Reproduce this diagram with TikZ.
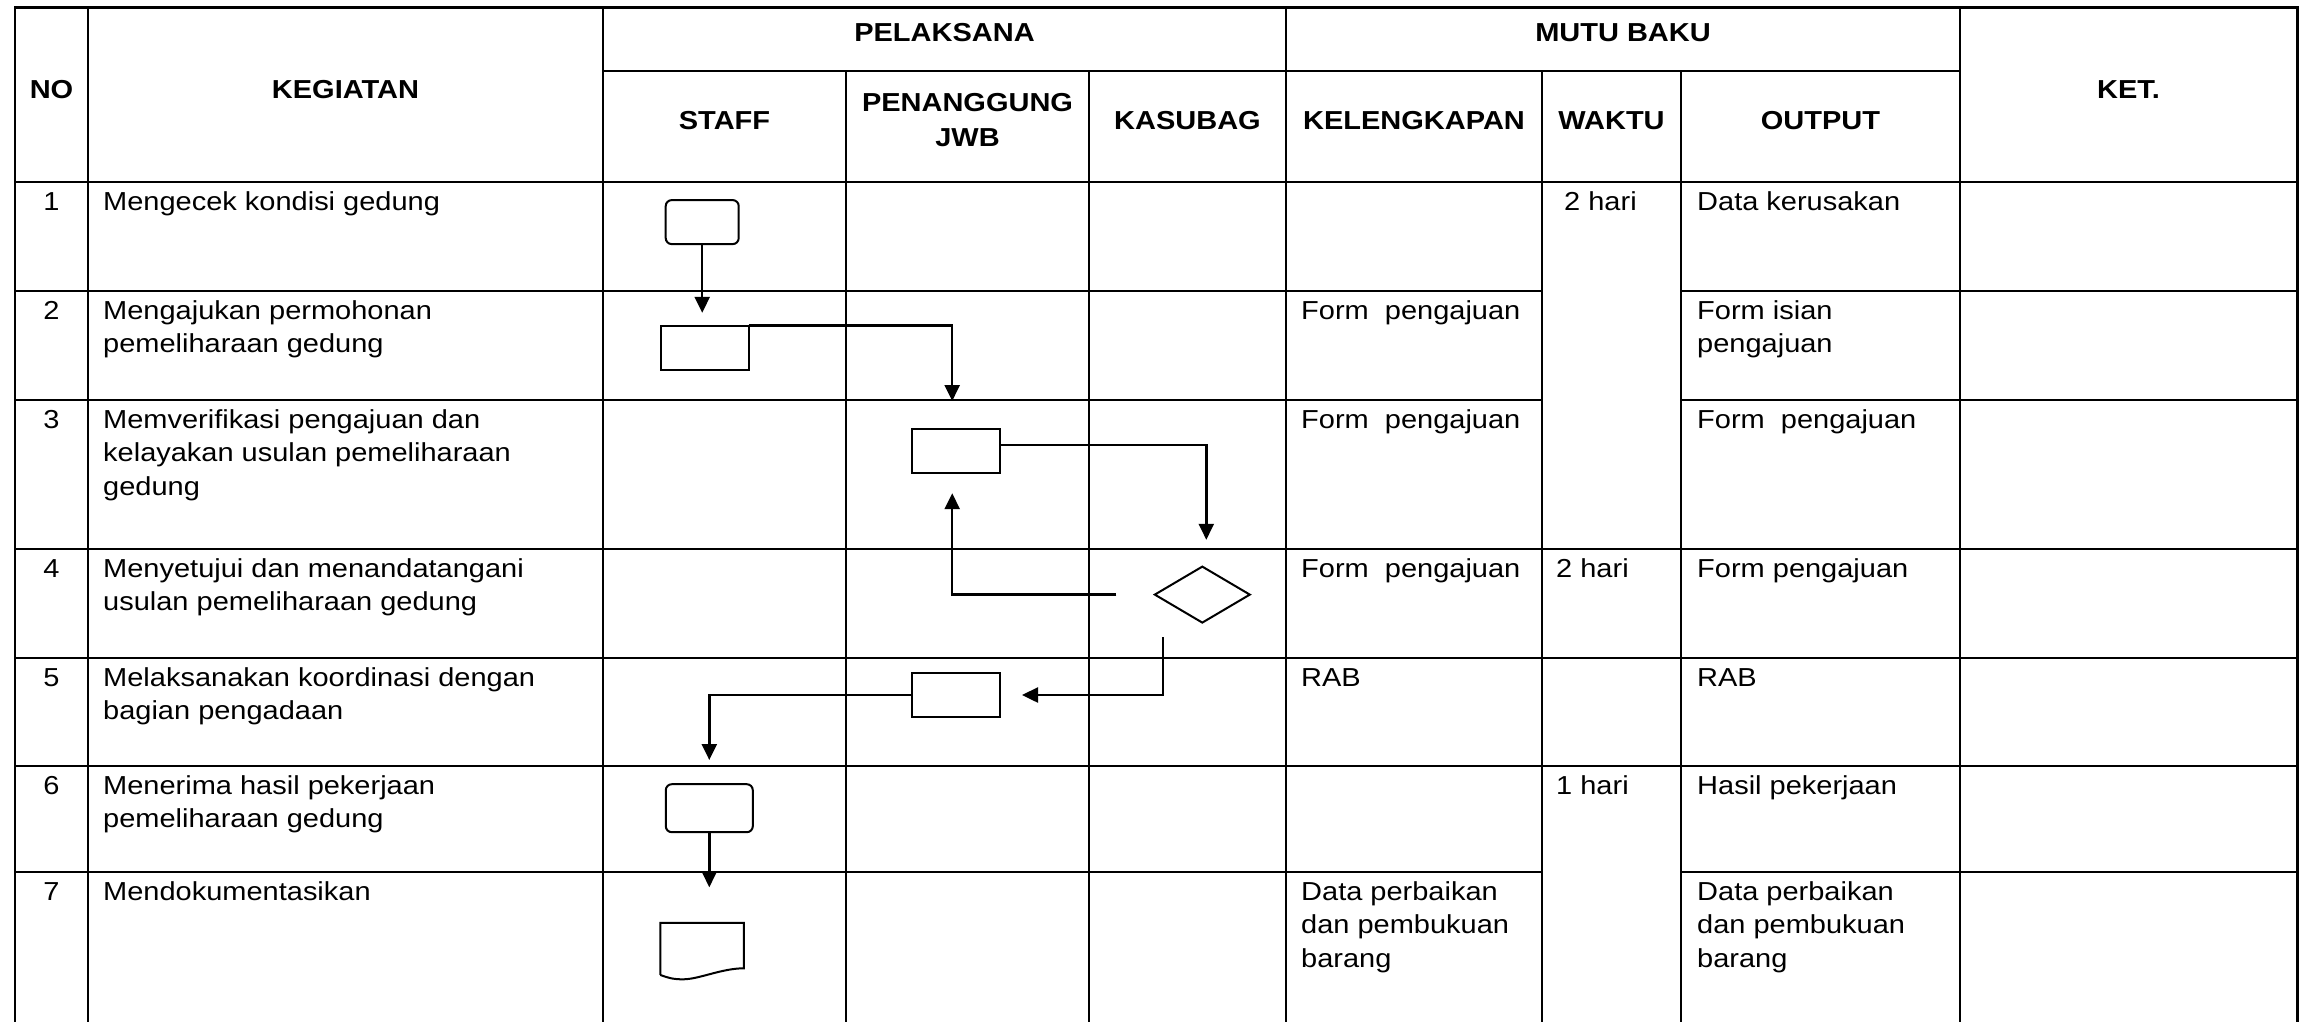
\documentclass[tikz,border=0pt]{standalone}
\usepackage{fontspec}
\setmainfont{Liberation Sans}[FakeStretch=1.115]
\usetikzlibrary{arrows.meta,shapes.geometric}
\newcommand\cel[1]{\parbox[t]{495pt}{\raggedright #1}}
\begin{document}
\begin{tikzpicture}[x=1pt,y=-1pt,
  font=\fontsize{26}{33.5}\selectfont,
  tbl/.style={line width=2.7pt, line cap=rect},
  box/.style={draw, line width=2pt, rectangle, inner sep=0pt, outer sep=0pt},
  rbox/.style={box, rounded corners=6pt},
  dia/.style={draw, line width=2pt, diamond, inner sep=0pt, outer sep=0pt},
  arr/.style={line width=2.5pt, -{Triangle[length=16pt,width=15pt]}},
  txt/.style={anchor=base west, inner sep=0pt},
  num/.style={anchor=base, inner sep=0pt},
  hd/.style={anchor=base, inner sep=0pt, font=\fontsize{26}{35}\selectfont\bfseries},
]
\useasboundingbox (0,0) rectangle (2299,1021);
% ---------- table grid ----------
\draw[tbl] (15,7.5) -- (2297.5,7.5);
\draw[tbl] (603,71) -- (1960,71);
\draw[tbl] (15,182) -- (2297.5,182);
\foreach \yy in {291,400,872}{
  \draw[tbl] (15,\yy) -- (1542,\yy);
  \draw[tbl] (1681,\yy) -- (2297.5,\yy);
}
\foreach \yy in {549,658,766}{
  \draw[tbl] (15,\yy) -- (2297.5,\yy);
}
\foreach \xx in {15,88,603,1286,1960,2297.5}{
  \draw[tbl] (\xx,7.5) -- (\xx,1021);
}
\foreach \xx in {846,1089,1542,1681}{
  \draw[tbl] (\xx,71) -- (\xx,1021);
}
% ---------- headers ----------
\node[hd] (hno) at (51.5,98) {NO};
\node[hd] (hkeg) at (345.5,98) {KEGIATAN};
\node[hd] (hpel) at (944.5,41.7) {PELAKSANA};
\node[hd] (hstaff) at (724.5,129.3) {STAFF};
\node[hd] (hpj) at (967.5,111.7) {\parbox[t]{230pt}{\centering PENANGGUNG\\JWB}};
\node[hd] (hkas) at (1187.5,129.3) {KASUBAG};
\node[hd] (hmutu) at (1623,41.7) {MUTU BAKU};
\node[hd] (hkel) at (1414,129.3) {KELENGKAPAN};
\node[hd] (hwak) at (1611.5,129.3) {WAKTU};
\node[hd] (hout) at (1820.5,129.3) {OUTPUT};
\node[hd] (hket) at (2128.5,98) {KET.};
% ---------- numbers ----------
\node[num] (n1) at (51.5,210) {1};
\node[num] (n2) at (51.5,319) {2};
\node[num] (n3) at (51.5,428) {3};
\node[num] (n4) at (51.5,577) {4};
\node[num] (n5) at (51.5,686) {5};
\node[num] (n6) at (51.5,794) {6};
\node[num] (n7) at (51.5,900) {7};
% ---------- kegiatan ----------
\node[txt] (k1) at (103,210) {\cel{Mengecek kondisi gedung}};
\node[txt] (k2) at (103,319) {\cel{Mengajukan permohonan\\pemeliharaan gedung}};
\node[txt] (k3) at (103,428) {\cel{Memverifikasi pengajuan dan\\kelayakan usulan pemeliharaan\\gedung}};
\node[txt] (k4) at (103,577) {\cel{Menyetujui dan menandatangani\\usulan pemeliharaan gedung}};
\node[txt] (k5) at (103,686) {\cel{Melaksanakan koordinasi dengan\\bagian pengadaan}};
\node[txt] (k6) at (103,794) {\cel{Menerima hasil pekerjaan\\pemeliharaan gedung}};
\node[txt] (k7) at (103,900) {\cel{Mendokumentasikan}};
% ---------- kelengkapan ----------
\node[txt] (l2) at (1301,319) {Form\ \ pengajuan};
\node[txt] (l3) at (1301,428) {Form\ \ pengajuan};
\node[txt] (l4) at (1301,577) {Form\ \ pengajuan};
\node[txt] (l5) at (1301,686) {RAB};
\node[txt] (l7) at (1301,900) {\cel{Data perbaikan\\dan pembukuan\\barang}};
% ---------- waktu ----------
\node[txt] (w1) at (1564,210) {2 hari};
\node[txt] (w4) at (1556,577) {2 hari};
\node[txt] (w6) at (1556,794) {1 hari};
% ---------- output ----------
\node[txt] (o1) at (1697,210) {Data kerusakan};
\node[txt] (o2) at (1697,319) {\cel{Form isian\\pengajuan}};
\node[txt] (o3) at (1697,428) {Form\ \ pengajuan};
\node[txt] (o4) at (1697,577) {Form pengajuan};
\node[txt] (o5) at (1697,686) {RAB};
\node[txt] (o6) at (1697,794) {Hasil pekerjaan};
\node[txt] (o7) at (1697,900) {\cel{Data perbaikan\\dan pembukuan\\barang}};
% ---------- flow shapes ----------
\node[rbox, minimum width=73pt, minimum height=44pt] (s1) at (702.2,222.1) {};
\node[box, minimum width=88pt, minimum height=44pt] (s2) at (704.5,347.6) {};
\node[box, minimum width=88pt, minimum height=44pt] (s3) at (956,450.6) {};
\node[dia, minimum width=95pt, minimum height=56pt] (s4) at (1202.3,594.6) {};
\node[box, minimum width=88pt, minimum height=44pt] (s5) at (956,695) {};
\node[rbox, minimum width=87pt, minimum height=48pt] (s6) at (709.3,808.2) {};
\node[inner sep=0pt, outer sep=0pt, minimum width=83.5pt, minimum height=52pt] (s7) at (702,948.9) {};
\draw[line width=2pt, line join=miter]
  (s7.south west) -- (s7.north west) -- (s7.north east) -- ([yshift=6.6pt]s7.south east)
  .. controls +(-22pt,0pt) and +(16pt,0pt) .. ([xshift=-19pt,yshift=-4.4pt]s7.south)
  .. controls +(-10pt,0pt) and +(8pt,-3pt) .. (s7.south west);
% ---------- connectors ----------
\draw[arr, shorten >=12.8pt] (s1.south) -- (s1.south |- s2.north);
\draw[arr, shorten >=27.6pt] (s2.north east) -| ([xshift=-3.8pt]s3.north);
\draw[arr, shorten >=26.8pt] ([yshift=5.4pt]s3.east) -| ([xshift=4pt]s4.north);
\draw[arr, shorten <=38.5pt, shorten >=20.6pt] (s4.west) -| ([xshift=-3.8pt]s3.south);
\draw[arr, shorten <=14.5pt, shorten >=22pt] ([xshift=-39.3pt]s4.south) |- (s5.east);
\draw[arr, shorten >=24.2pt] (s5.west) -| (s6.north);
\draw[arr, shorten >=35.6pt] (s6.south) -- (s6.south |- s7.north);
\end{tikzpicture}
\end{document}
